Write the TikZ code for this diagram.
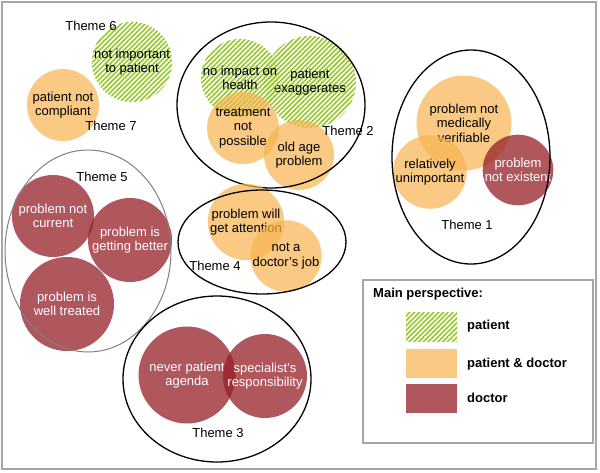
\documentclass[tikz,border=0pt]{standalone}
\usepackage{fontspec}
\setmainfont{Liberation Sans}
\usetikzlibrary{shapes.geometric,patterns.meta}
\definecolor{patgreen}{RGB}{150,200,40}
\definecolor{botho}{RGB}{248,180,80}
\definecolor{docred}{RGB}{150,30,40}
\tikzset{
    every node/.style={font=\fontsize{13}{14.5}\selectfont, align=center, inner sep=0},
    c/.style={circle, minimum size=#1},
    pat/.style={pattern={Lines[angle=45,distance=3.4pt,line width=1.6pt]}, pattern color=patgreen},
    both/.style={fill=botho, fill opacity=0.7, text opacity=1},
    doc/.style={fill=docred, fill opacity=0.75, text opacity=1, text=white},
    theme/.style={ellipse, draw, line width=1.3pt},
    lbl/.style={},
    swatch/.style={rectangle, minimum width=51, minimum height=29}
}

\begin{document}
\begin{tikzpicture}[x=1pt,y=-1pt]
\useasboundingbox (0,0) rectangle (600,472);
\fill[white] (0,0) rectangle (600,472);
\draw[gray!70, line width=2.5pt] (2,2) rectangle (596,469);

% theme 6 and 7
\node[c=73,pat] at (132,62) (notimp) {not important\\to patient};
\node[c=72,both] at (63,105) (compl) {patient not\\compliant};
\node[lbl] at (91,26) (t6) {Theme 6};
\node[lbl] at (111,126) (t7) {Theme 7};

% theme 2
\node[c=92,pat] at (310,82) (exag) {patient\\exaggerates};
\node[c=76,pat] at (240,78) (noimp) {no impact on\\health};
\node[c=72,both] at (243,128) (treat) {treatment\\not\\possible};
\node[c=70,both] at (299,155) (oldage) {old age\\problem};
\node[theme,minimum width=188,minimum height=166] at (271,105) (th2) {};
\node[lbl] at (348,131) (t2) {Theme 2};

% theme 1
\node[c=95,both] at (464,123) (verif) {problem not\\medically\\verifiable};
\node[c=66,both] at (430,172) (unimp) {relatively\\unimportant};
\node[c=64,doc] at (518,170) (exist) {problem\\not existent};
\node[theme,minimum width=158,minimum height=214] at (471,157) (th1) {};
\node[lbl] at (467,225) (t1) {Theme 1};

% theme 5
\node[c=82,doc] at (53,216) (current) {problem not\\current};
\node[c=84,doc] at (130,240) (better) {problem is\\getting better};
\node[c=94,doc] at (67,304) (treated) {problem is\\well treated};
\node[ellipse,draw=gray,line width=1pt,minimum width=166,minimum height=202] at (88,251) (th5) {};
\node[lbl] at (102,177) (t5) {Theme 5};

% theme 4
\node[c=63,both] at (246,222) (attn) {problem will\\get attention};
\node[c=64,both] at (286,256) (job) {not a\\doctor’s job};
\node[theme,minimum width=168,minimum height=104] at (262,242) (th4) {};
\node[lbl] at (215,266) (t4) {Theme 4};

% theme 3
\node[c=97,doc] at (187,375) (agenda) {never patient\\agenda};
\node[c=84,doc] at (265,376) (spec) {specialist’s\\responsibility};
\node[theme,minimum width=188,minimum height=166] at (217,379) (th3) {};
\node[lbl] at (218,433) (t3) {Theme 3};

% legend
\draw[gray!70, line width=1.2pt] (363,280) rectangle (593,443);
\node[anchor=west,font=\fontsize{13}{14.5}\selectfont\bfseries] at (373,294) (lhead) {Main perspective:};
\node[swatch,pat] at (431.5,326.5) (sw1) {};
\node[swatch,both] at (431.5,363) (sw2) {};
\node[swatch,doc] at (431.5,398) (sw3) {};
\node[anchor=west,font=\fontsize{13}{14.5}\selectfont\bfseries] at (467,326) (l1) {patient};
\node[anchor=west,font=\fontsize{13}{14.5}\selectfont\bfseries] at (467,364) (l2) {patient \& doctor};
\node[anchor=west,font=\fontsize{13}{14.5}\selectfont\bfseries] at (467,398) (l3) {doctor};
\end{tikzpicture}
\end{document}
